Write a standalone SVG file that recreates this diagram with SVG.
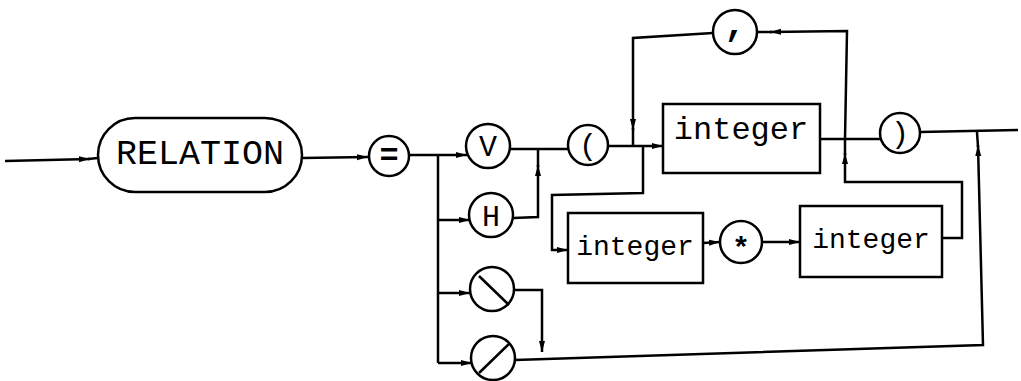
<svg xmlns="http://www.w3.org/2000/svg" width="1021" height="381" viewBox="0 0 1021 381">
<style>
.ln{fill:none;stroke:#000;stroke-width:2.5;stroke-linejoin:miter}
.nd{fill:#fff;stroke:#000;stroke-width:2.5}
.t{font-family:"Liberation Mono","Courier New",monospace;fill:#000;text-anchor:middle}
</style>
<defs>
<marker id="a" markerUnits="userSpaceOnUse" markerWidth="12" markerHeight="8" refX="11" refY="4" orient="auto">
<path d="M0,1 L11,4 L0,7 z" fill="#000"/>
</marker>
</defs>
<rect width="1021" height="381" fill="#fff"/>
<g id="connectors">
<path class="ln" d="M5,161 L90,159" marker-end="url(#a)"/>
<path class="ln" d="M88,159 L98,158"/>
<path class="ln" d="M302,158 L368,157" marker-end="url(#a)"/>
<path class="ln" d="M410,155 L467,155" marker-end="url(#a)"/>
<path class="ln" d="M438,155 L438,363"/>
<path class="ln" d="M438,220 L470,220" marker-end="url(#a)"/>
<path class="ln" d="M438,293 L470,293" marker-end="url(#a)"/>
<path class="ln" d="M438,363 L472,363" marker-end="url(#a)"/>
<path class="ln" d="M513,218 L538,217 L538,165" marker-end="url(#a)"/>
<path class="ln" d="M538,167 L538,149"/>
<path class="ln" d="M514,290 L542,290 L542,352" marker-end="url(#a)"/>
<path class="ln" d="M515,360 L983,345 L978,145" marker-end="url(#a)"/>
<path class="ln" d="M978,147 L977,132"/>
<path class="ln" d="M510,149 L568,149"/>
<path class="ln" d="M608,146 L663,146" marker-end="url(#a)"/>
<path class="ln" d="M820,139 L845,139 L847,31 L770,32" marker-end="url(#a)"/>
<path class="ln" d="M772,32 L757,32"/>
<path class="ln" d="M713,33 L633,38 L633,130" marker-end="url(#a)"/>
<path class="ln" d="M633,128 L633,146"/>
<path class="ln" d="M643,146 L643,193 L552,195 L552,250 L568,250" marker-end="url(#a)"/>
<path class="ln" d="M703,243 L720,242" marker-end="url(#a)"/>
<path class="ln" d="M762,242 L800,242" marker-end="url(#a)"/>
<path class="ln" d="M942,238 L962,238 L962,182 L845,182 L845,153" marker-end="url(#a)"/>
<path class="ln" d="M845,155 L845,139"/>
<path class="ln" d="M845,139 L881,139"/>
<path class="ln" d="M920,132 L1018,130"/>
</g>
<g id="relation">
<rect class="nd" x="98" y="118" width="204" height="74" rx="37"/>
<text class="t" x="200" y="164" font-size="35">RELATION</text>
</g>
<g id="eq">
<circle class="nd" cx="389" cy="156" r="20"/>
<text class="t" x="389" y="165" font-size="32" font-weight="bold">=</text>
</g>
<g id="v">
<circle class="nd" cx="488" cy="146" r="22"/>
<text class="t" x="488" y="156" font-size="30">V</text>
</g>
<g id="h">
<circle class="nd" cx="491" cy="215" r="22"/>
<text class="t" x="491" y="226" font-size="30">H</text>
</g>
<g id="backslash">
<circle class="nd" cx="492" cy="289" r="22"/>
<path class="ln" d="M479,276 L509,305"/>
</g>
<g id="slash">
<circle class="nd" cx="493" cy="358" r="22"/>
<path class="ln" d="M479,373 L510,343"/>
</g>
<g id="lparen">
<circle class="nd" cx="588" cy="145" r="20"/>
<text class="t" x="588" y="155" font-size="30">(</text>
</g>
<g id="comma">
<circle class="nd" cx="735" cy="32" r="22"/>
<text class="t" x="735" y="35" font-size="36" font-weight="bold">,</text>
</g>
<g id="integer1">
<rect class="nd" x="663" y="104" width="157" height="69"/>
<text class="t" x="741" y="139" font-size="32">integer</text>
</g>
<g id="rparen">
<circle class="nd" cx="900" cy="133" r="20"/>
<text class="t" x="900" y="143" font-size="30">)</text>
</g>
<g id="integer2">
<rect class="nd" x="568" y="213" width="135" height="70"/>
<text class="t" x="635" y="255" font-size="28">integer</text>
</g>
<g id="star">
<circle class="nd" cx="741" cy="242" r="21"/>
<text class="t" x="741" y="258" font-size="30" font-weight="bold">*</text>
</g>
<g id="integer3">
<rect class="nd" x="800" y="206" width="142" height="71"/>
<text class="t" x="871" y="248" font-size="28">integer</text>
</g>
</svg>
